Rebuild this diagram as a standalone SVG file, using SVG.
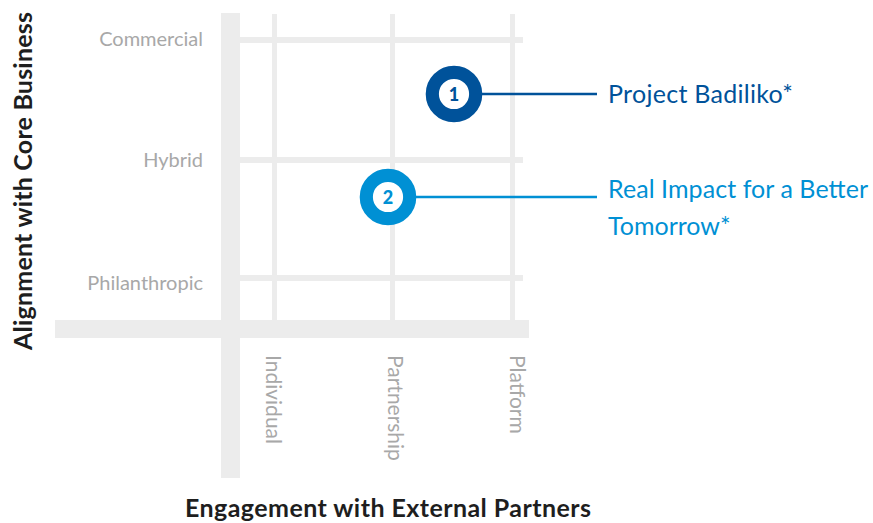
<svg xmlns="http://www.w3.org/2000/svg" width="873" height="523" viewBox="0 0 873 523">
  <style>
    .grid { fill: #ececec; }
    .tick { font-family: Lato, "Open Sans", sans-serif; font-size: 20px; fill: #a8a8a8; }
    .vtick { font-size: 21px; }
    .title { font-family: Lato, "Open Sans", sans-serif; font-size: 25px; font-weight: bold; fill: #1e1e1e; }
    .label { font-family: Lato, "Open Sans", sans-serif; font-size: 25px; }
    .num { font-family: Lato, "Open Sans", sans-serif; font-size: 18px; font-weight: 900; text-anchor: middle; }
    .dark { fill: #00529a; }
    .light { fill: #0090d4; }
  </style>

  <rect width="873" height="523" fill="#ffffff"/>

  <!-- grid and axes -->
  <g id="grid">
    <!-- thin horizontal rows -->
    <rect class="grid" x="240" y="37" width="283" height="6"/>
    <rect class="grid" x="240" y="157" width="283" height="6"/>
    <rect class="grid" x="240" y="275" width="283" height="6"/>
    <!-- thin vertical columns -->
    <rect class="grid" x="272" y="14" width="5" height="306"/>
    <rect class="grid" x="390" y="14" width="5" height="306"/>
    <rect class="grid" x="510" y="14" width="5" height="306"/>
    <!-- thick axes -->
    <rect class="grid" x="221" y="13" width="19" height="465"/>
    <rect class="grid" x="55" y="320" width="474" height="18"/>
  </g>

  <!-- axis categories -->
  <g id="y-ticks" class="tick" text-anchor="end">
    <text x="203" y="46">Commercial</text>
    <text x="203" y="167">Hybrid</text>
    <text x="203" y="290">Philanthropic</text>
  </g>
  <g id="x-ticks" class="tick vtick">
    <text transform="translate(266,355) rotate(90)">Individual</text>
    <text transform="translate(388,355) rotate(90)">Partnership</text>
    <text transform="translate(510,355) rotate(90)">Platform</text>
  </g>

  <!-- axis titles -->
  <text id="y-title" class="title" text-anchor="middle" transform="translate(32,181) rotate(-90)" textLength="338">Alignment with Core Business</text>
  <text id="x-title" class="title" text-anchor="middle" x="388" y="517" textLength="406">Engagement with External Partners</text>

  <!-- connectors -->
  <g id="connectors">
    <line x1="470" y1="94" x2="597" y2="94" stroke="#00529a" stroke-width="2.5"/>
    <line x1="405" y1="197" x2="597" y2="197" stroke="#0090d4" stroke-width="2.5"/>
  </g>

  <!-- project markers -->
  <g id="node-1">
    <circle cx="454" cy="94" r="21.7" fill="#ffffff" stroke="#00529a" stroke-width="13.2"/>
    <text class="num dark" x="454" y="100.5">1</text>
    <text class="label dark" x="608" y="103" textLength="185">Project Badiliko*</text>
  </g>
  <g id="node-2">
    <circle cx="388" cy="197" r="21.7" fill="#ffffff" stroke="#0090d4" stroke-width="13.2"/>
    <text class="num light" x="388" y="203.5">2</text>
    <text class="label light" x="608" y="198" textLength="260">Real Impact for a Better</text>
    <text class="label light" x="608" y="235">Tomorrow*</text>
  </g>
</svg>
